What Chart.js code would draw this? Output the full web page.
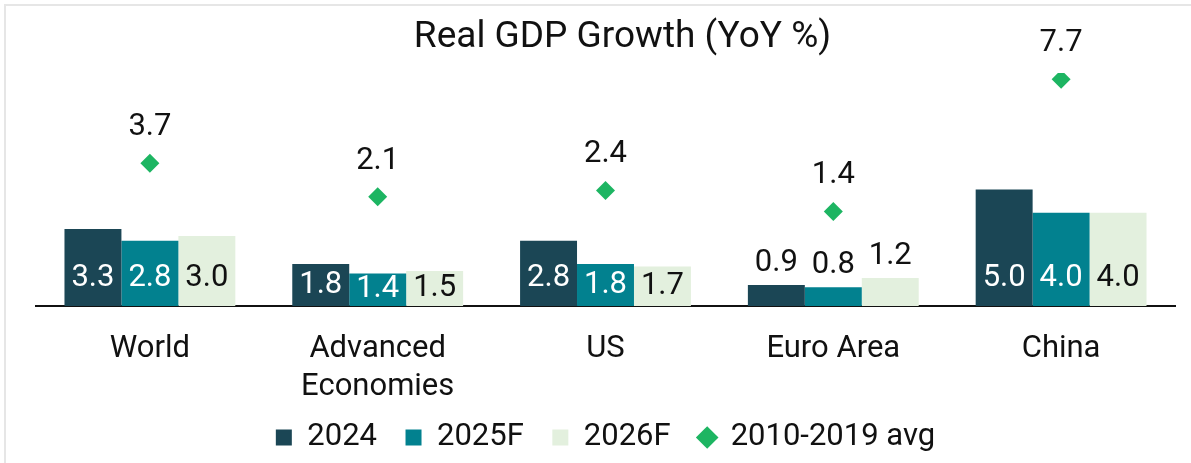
<!DOCTYPE html>
<html>
<head>
<meta charset="utf-8">
<script src="https://cdn.jsdelivr.net/npm/chart.js@4/dist/chart.umd.min.js"></script>
<style>
  html, body { margin: 0; padding: 0; background: #fff; }
  #wrap { position: relative; width: 1191px; height: 463px; overflow: hidden; }
  #frame { position: absolute; left: 4px; top: 4px; width: 1200px; height: 470px;
           border-top: 2px solid #e6e6e6; border-left: 2px solid #e6e6e6; }
  #gdpChart { position: absolute; left: 0; top: 0; }
</style>
</head>
<body>
<div id="wrap">
  <div id="frame"></div>
  <canvas id="gdpChart" width="1191" height="463"></canvas>
</div>
<script>
const categories = ['World', ['Advanced', 'Economies'], 'US', 'Euro Area', 'China'];
const growth2024 = [3.3, 1.8, 2.8, 0.9, 5.0];
const growth2025F = [2.8, 1.4, 1.8, 0.8, 4.0];
const growth2026F = [3.0, 1.5, 1.7, 1.2, 4.0];
const avg2010to2019 = [3.7, 2.1, 2.4, 1.4, 7.7];

const FONT = 'Roboto';

// value labels on bars and diamonds
const valueLabels = {
    id: 'valueLabels',
    afterDatasetsDraw(chart) {
        const ctx = chart.ctx;
        ctx.save();
        ctx.font = `31px ${FONT}`;
        ctx.textAlign = 'center';
        ctx.textBaseline = 'middle';
        chart.data.datasets.forEach((ds, di) => {
            const meta = chart.getDatasetMeta(di);
            meta.data.forEach((el, i) => {
                const txt = ds.data[i].toFixed(1);
                let y;
                let color = '#111';
                if (ds.type === 'line') {
                    y = el.y - 36;
                } else {
                    const h = el.base - el.y;
                    if (h >= 30) {
                        y = Math.max((el.y + el.base) / 2, el.base - 28);
                        color = ds.labelColor;
                    } else {
                        y = el.y - 22;
                    }
                }
                ctx.fillStyle = color;
                ctx.fillText(txt, el.x, y);
            });
        });
        ctx.restore();
    }
};

// nudge title right and legend up, as in the original
const boxShift = {
    id: 'boxShift',
    afterLayout(chart) {
        if (chart.titleBlock) {
            chart.titleBlock.left += 17;
            chart.titleBlock.right += 17;
        }
        if (chart.legend) {
            chart.legend.top -= 5.5;
            chart.legend.bottom -= 5.5;
        }
    }
};

const ctx = document.getElementById('gdpChart').getContext('2d');
const gdpChart = new Chart(ctx, {
    type: 'bar',
    data: {
        labels: categories,
        datasets: [
            {
                label: '2024',
                data: growth2024,
                backgroundColor: '#1B4655',
                labelColor: '#fff',
                pointStyle: 'rect',
                yAxisID: 'y'
            },
            {
                label: '2025F',
                data: growth2025F,
                backgroundColor: '#02818F',
                labelColor: '#fff',
                pointStyle: 'rect',
                yAxisID: 'y'
            },
            {
                label: '2026F',
                data: growth2026F,
                backgroundColor: '#E3F0DE',
                labelColor: '#111',
                pointStyle: 'rect',
                yAxisID: 'y'
            },
            {
                type: 'line',
                label: '2010-2019 avg',
                data: avg2010to2019,
                yAxisID: 'y2',
                showLine: false,
                backgroundColor: '#1DB562',
                borderColor: '#1DB562',
                borderWidth: 0,
                pointStyle: 'rectRot',
                pointRadius: 9.5,
                pointHoverRadius: 9.5,
                pointBackgroundColor: '#1DB562',
                pointBorderWidth: 0
            }
        ]
    },
    options: {
        responsive: false,
        animation: false,
        devicePixelRatio: 1,
        layout: { padding: { left: 36, right: 16, top: 0, bottom: -5.5 } },
        datasets: {
            bar: { categoryPercentage: 0.75, barPercentage: 1.0 }
        },
        scales: {
            x: {
                grid: { display: false, drawTicks: false },
                border: { display: true, color: '#111', width: 2 },
                ticks: {
                    color: '#111',
                    padding: 25,
                    maxRotation: 0,
                    autoSkip: false,
                    font: { family: FONT, size: 31, lineHeight: 1.2 }
                },
                afterFit(axis) { axis.height = 93; }
            },
            y: { display: false, min: 0, max: 10 },
            y2: { display: false, min: -3.1, max: 8 }
        },
        plugins: {
            title: {
                display: true,
                text: 'Real GDP Growth (YoY %)',
                color: '#111',
                font: { family: FONT, size: 37, weight: 'normal', lineHeight: 1.2 },
                padding: { top: 16, bottom: 12.6 }
            },
            legend: {
                display: true,
                position: 'bottom',
                labels: {
                    usePointStyle: true,
                    boxWidth: 16,
                    boxHeight: 16,
                    padding: 28.5,
                    color: '#111',
                    font: { family: FONT, size: 31 },
                    sort: (a, b) => a.datasetIndex - b.datasetIndex
                }
            },
            tooltip: { enabled: false }
        }
    },
    plugins: [valueLabels, boxShift]
});
</script>
</body>
</html>
